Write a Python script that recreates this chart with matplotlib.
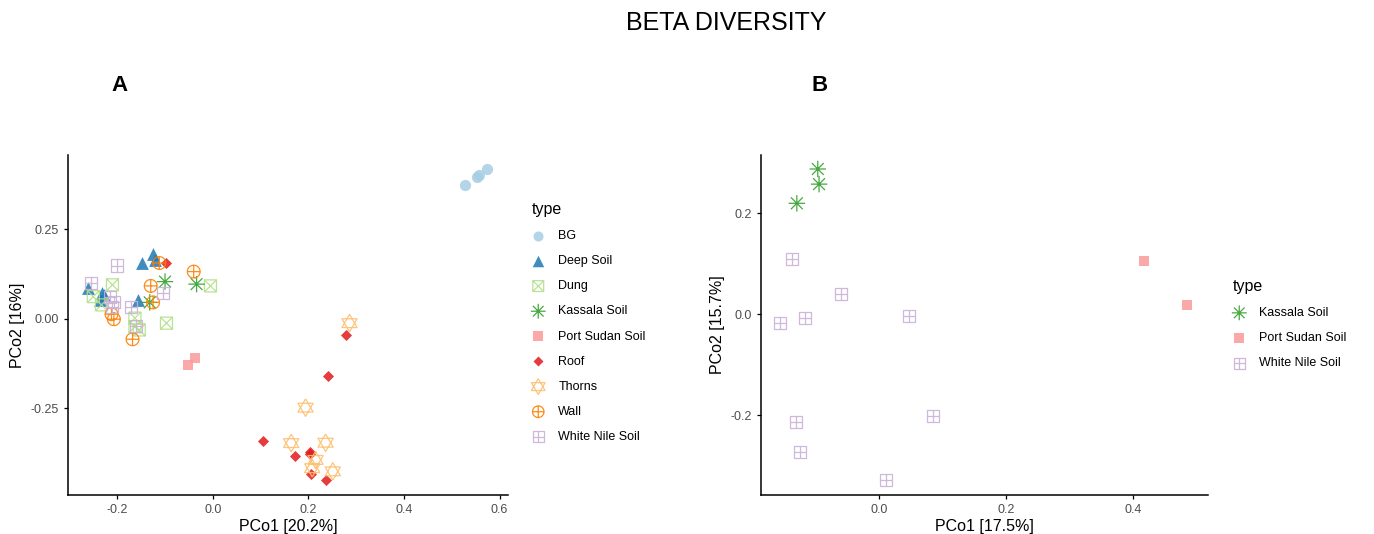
import numpy as np
import matplotlib
matplotlib.use("Agg")
import matplotlib.pyplot as plt
from matplotlib.path import Path

plt.rcParams['font.family'] = ['Liberation Sans', 'DejaVu Sans']

# ---- data, panel A ----
types_a = ['BG', 'Deep Soil', 'Dung', 'Kassala Soil', 'Port Sudan Soil',
           'Roof', 'Thorns', 'Wall', 'White Nile Soil']
pts_a = {
    'BG': ([0.528, 0.552, 0.558, 0.574], [0.374, 0.397, 0.402, 0.419]),
    'Deep Soil': ([-0.261, -0.232, -0.236, -0.149, -0.125, -0.121, -0.156, -0.228],
                  [0.087, 0.073, 0.053, 0.156, 0.182, 0.165, 0.053, 0.066]),
    'Dung': ([-0.210, -0.250, -0.233, -0.163, -0.154, -0.097, -0.005, -0.163],
             [0.095, 0.062, 0.039, 0.002, -0.031, -0.012, 0.092, -0.022]),
    'Kassala Soil': ([-0.100, -0.034, -0.132], [0.104, 0.097, 0.046]),
    'Port Sudan Soil': ([-0.052, -0.038], [-0.128, -0.109]),
    'Roof': ([-0.098, 0.279, 0.241, 0.105, 0.171, 0.203, 0.204, 0.206, 0.236],
             [0.156, -0.045, -0.159, -0.341, -0.382, -0.371, -0.377, -0.434, -0.450]),
    'Thorns': ([0.286, 0.194, 0.164, 0.236, 0.215, 0.208, 0.251],
               [-0.012, -0.248, -0.347, -0.346, -0.394, -0.417, -0.426]),
    'Wall': ([-0.112, -0.040, -0.130, -0.125, -0.212, -0.207, -0.168],
             [0.156, 0.132, 0.092, 0.046, 0.013, -0.001, -0.057]),
    'White Nile Soil': ([-0.200, -0.254, -0.104, -0.207, -0.215, -0.172, -0.210, -0.161],
                        [0.149, 0.100, 0.072, 0.048, 0.062, 0.034, 0.034, -0.021]),
}

# ---- data, panel B ----
types_b = ['Kassala Soil', 'Port Sudan Soil', 'White Nile Soil']
pts_b = {
    'Kassala Soil': ([-0.096, -0.094, -0.129], [0.288, 0.258, 0.220]),
    'Port Sudan Soil': ([0.418, 0.486], [0.106, 0.018]),
    'White Nile Soil': ([-0.137, -0.059, -0.155, -0.116, 0.048, 0.085, -0.130, -0.124, 0.011],
                        [0.110, 0.040, -0.017, -0.007, -0.003, -0.201, -0.214, -0.273, -0.329]),
}

colors = {
    'BG': '#a6cee3', 'Deep Soil': '#1f78b4', 'Dung': '#b2df8a',
    'Kassala Soil': '#33a02c', 'Port Sudan Soil': '#fb9a99', 'Roof': '#e31a1c',
    'Thorns': '#fdbf6f', 'Wall': '#ff7f00', 'White Nile Soil': '#cab2d6',
}

M, L = Path.MOVETO, Path.LINETO


def seg_path(segs):
    verts, codes = [], []
    for s in segs:
        verts += s
        codes += [M] + [L] * (len(s) - 1)
    return Path(verts, codes)


sq = [(-1, -1), (1, -1), (1, 1), (-1, 1), (-1, -1)]
square_x = seg_path([sq, [(-1, -1), (1, 1)], [(-1, 1), (1, -1)]])
square_plus = seg_path([sq, [(0, -1), (0, 1)], [(-1, 0), (1, 0)]])
t = np.linspace(0, 2 * np.pi, 41)
circ = list(zip(np.cos(t), np.sin(t)))
circle_plus = seg_path([circ, [(0, -1), (0, 1)], [(-1, 0), (1, 0)]])
star = seg_path([[(0, -1), (0, 1)], [(-1, 0), (1, 0)],
                 [(-0.72, -0.72), (0.72, 0.72)], [(-0.72, 0.72), (0.72, -0.72)]])
hexagram = seg_path([[(0, 1.1), (-0.95, -0.55), (0.95, -0.55), (0, 1.1)],
                     [(0, -1.1), (-0.95, 0.55), (0.95, 0.55), (0, -1.1)]])

# marker, filled, size
styles = {
    'BG': ('o', True, 65),
    'Deep Soil': ('^', True, 85),
    'Dung': (square_x, False, 75),
    'Kassala Soil': (star, False, 140),
    'Port Sudan Soil': ('s', True, 60),
    'Roof': ('D', True, 32),
    'Thorns': (hexagram, False, 160),
    'Wall': (circle_plus, False, 85),
    'White Nile Soil': (square_plus, False, 75),
}


def draw(ax, types, pts):
    for k in types:
        x, y = pts[k]
        m, filled, s = styles[k]
        if filled:
            ax.scatter(x, y, marker=m, s=s, color=colors[k], alpha=0.85,
                       linewidths=0, label=k)
        else:
            ax.scatter(x, y, marker=m, s=s, facecolors='none',
                       edgecolors=colors[k], linewidths=0.9, alpha=0.9, label=k)
    for sp in ['top', 'right']:
        ax.spines[sp].set_visible(False)
    for sp in ['left', 'bottom']:
        ax.spines[sp].set_linewidth(1.1)
    ax.tick_params(labelsize=9, labelcolor='#4d4d4d', length=3, width=0.9)


fig = plt.figure(figsize=(13.74, 5.34), dpi=100)
ax1 = fig.add_axes([0.0495, 0.073, 0.320, 0.637])
ax2 = fig.add_axes([0.5536, 0.073, 0.3253, 0.637])

draw(ax1, types_a, pts_a)
ax1.set_xlim(-0.303, 0.617)
ax1.set_ylim(-0.492, 0.458)
ax1.set_xticks([-0.2, 0.0, 0.2, 0.4, 0.6])
ax1.set_xticklabels(['-0.2', '0.0', '0.2', '0.4', '0.6'])
ax1.set_yticks([-0.25, 0.0, 0.25])
ax1.set_yticklabels(['-0.25', '0.00', '0.25'])
ax1.set_xlabel('PCo1 [20.2%]', fontsize=11.5, labelpad=2)
ax1.set_ylabel('PCo2 [16%]', fontsize=11.5, labelpad=4)

draw(ax2, types_b, pts_b)
ax2.set_xlim(-0.186, 0.518)
ax2.set_ylim(-0.358, 0.316)
ax2.set_xticks([0.0, 0.2, 0.4])
ax2.set_xticklabels(['0.0', '0.2', '0.4'])
ax2.set_yticks([-0.2, 0.0, 0.2])
ax2.set_yticklabels(['-0.2', '0.0', '0.2'])
ax2.set_xlabel('PCo1 [17.5%]', fontsize=11.5, labelpad=2)
ax2.set_ylabel('PCo2 [15.7%]', fontsize=11.5, labelpad=4)

leg_kw = dict(frameon=False, fontsize=9, title='type', title_fontsize=11.5,
              alignment='left', handlelength=1.0, handletextpad=1.1,
              labelspacing=1.05, borderpad=0, borderaxespad=0, scatterpoints=1,
              markerscale=0.9)
fig.legend(handles=ax1.collections, labels=types_a, loc='upper left',
           bbox_to_anchor=(532 / 1374, 1 - 202 / 534), **leg_kw)
fig.legend(handles=ax2.collections, labels=types_b, loc='upper left',
           bbox_to_anchor=(1233 / 1374, 1 - 279 / 534), **leg_kw)

fig.text(726 / 1374, 1 - 23 / 534, 'BETA DIVERSITY', fontsize=18,
         ha='center', va='center')
fig.text(120 / 1374, 1 - 85 / 534, 'A', fontsize=16, fontweight='bold',
         ha='center', va='center')
fig.text(820 / 1374, 1 - 85 / 534, 'B', fontsize=16, fontweight='bold',
         ha='center', va='center')

fig.savefig('out.png', dpi=100)
